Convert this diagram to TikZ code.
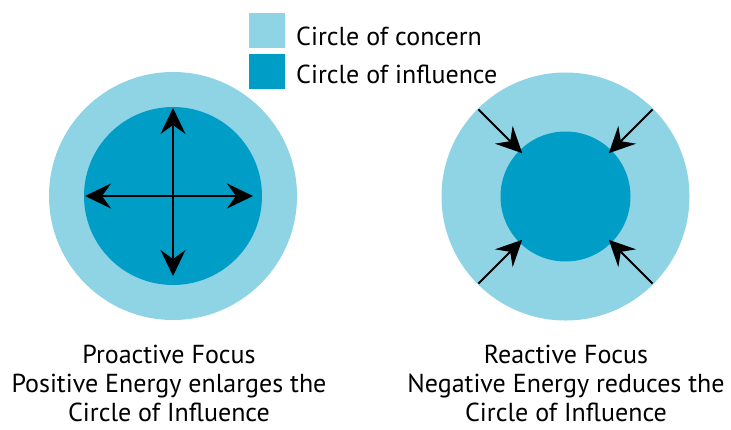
\documentclass[tikz,border=0pt]{standalone}
\usepackage{fontspec}
\setmainfont{PT Sans}
\usetikzlibrary{arrows.meta}

\definecolor{concern}{RGB}{143,212,229}
\definecolor{influence}{RGB}{0,158,199}

\begin{document}
\begin{tikzpicture}[x=1pt, y=-1pt,
		concern node/.style={circle,fill=concern,inner sep=0pt},
		influence node/.style={circle,fill=influence,inner sep=0pt},
		key node/.style={rectangle,inner sep=0pt,minimum width=36pt,minimum height=35pt},
		key text/.style={inner sep=0pt,font=\fontsize{26}{29}\selectfont},
		caption/.style={inner sep=0pt,align=center,font=\fontsize{26}{29}\selectfont},
		tip/.tip={Stealth[length=26pt,width=25pt,inset=9pt]},
		arrow/.style={line width=2pt,-tip},
		double arrow/.style={line width=2pt,tip-tip}]
		
		\useasboundingbox (0,0) rectangle (731,429);
		
		% legend
		\node[key node,fill=concern] (k1) at (267,30.5) {};
		\node[key node,fill=influence] (k2) at (267,71) {};
		\node[key text,anchor=base west] (t1) at (296,45) {Circle of concern};
		\node[key text,anchor=base west] (t2) at (296,83) {Circle of influence};
		
		% proactive
		\node[concern node,minimum size=248pt] (c1) at (173,196) {};
		\node[influence node,minimum size=178pt] (i1) at (173,196) {};
		\coordinate (n1) at (173,108);
		\coordinate (s1) at (173,276);
		\coordinate (w1) at (85,196);
		\coordinate (e1) at (253,196);
		\draw[double arrow] (n1) -- (s1);
		\draw[double arrow] (w1) -- (e1);
		
		% reactive
		\node[concern node,minimum size=248pt] (c2) at (565.5,196.5) {};
		\node[influence node,minimum size=130pt] (i2) at (565.5,196.5) {};
		\foreach \a in {45,135,225,315}
		\draw[arrow,shorten <=1pt,shorten >=-4pt] (c2.\a) -- (i2.\a);
		
		% captions
		\node[caption,anchor=north] (p) at (169,345)
		{Proactive Focus\\Positive Energy enlarges the\\Circle of Influence};
		\node[caption,anchor=north] (r) at (566,345)
		{Reactive Focus\\Negative Energy reduces the\\Circle of Influence};
\end{tikzpicture}
\end{document}
